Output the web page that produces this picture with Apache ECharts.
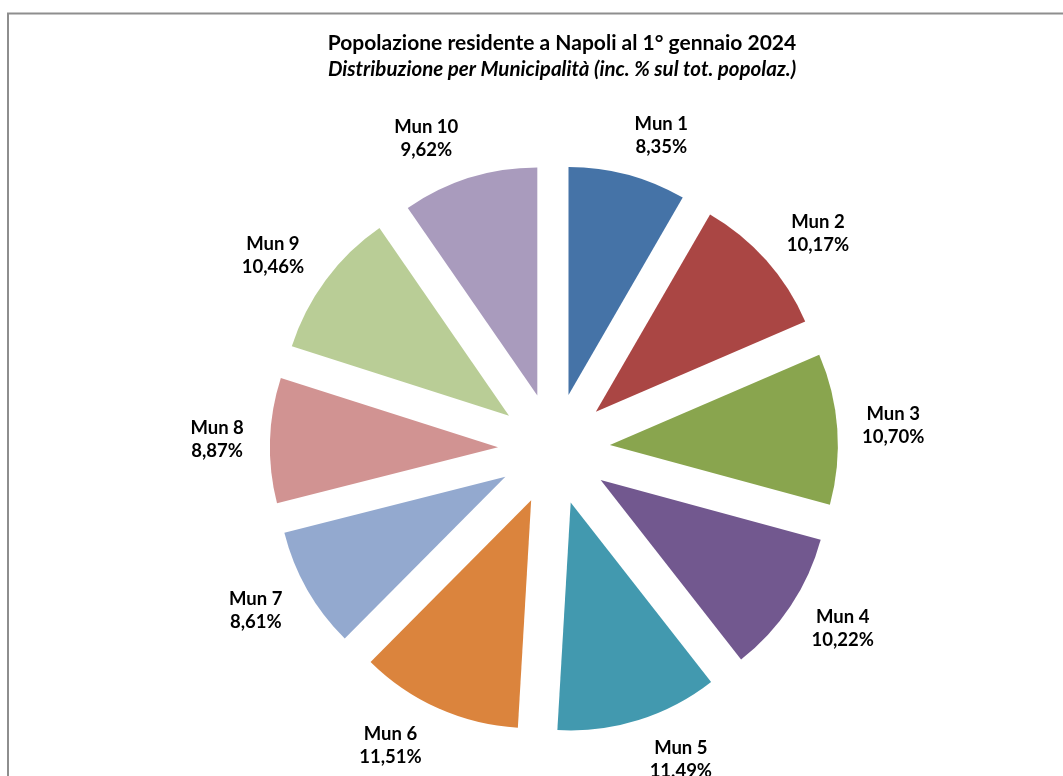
<!DOCTYPE html>
<html>
<head>
<meta charset="utf-8">
<script src="https://cdn.jsdelivr.net/npm/echarts@6/dist/echarts.min.js"></script>
<style>
  html, body { margin: 0; padding: 0; background: #fff; }
  #chart { width: 1063px; height: 776px; }
</style>
</head>
<body>
<div id="chart"></div>
<script>
// Municipalità e incidenza % sul totale della popolazione
const categories = ['Mun 1', 'Mun 2', 'Mun 3', 'Mun 4', 'Mun 5', 'Mun 6', 'Mun 7', 'Mun 8', 'Mun 9', 'Mun 10'];
const shares = [8.35, 10.17, 10.70, 10.22, 11.49, 11.51, 8.61, 8.87, 10.46, 9.62];
const colors = ['#4573A7', '#AA4644', '#89A54E', '#72588F', '#4299AF', '#DB843D', '#93A9CF', '#D19392', '#B9CD96', '#A99BBD'];
// spostamento orizzontale delle etichette (come le colloca Excel), in px
const labelNudgeX = [23, 21, 15, 18, 30, -31, -16, -12, -20, -31];

const center = [554, 449];
const fmt = v => v.toFixed(2).replace('.', ',') + '%';

// padding asimmetrico per spostare il testo centrato
const nudgePadding = dx => [0, dx < 0 ? -2 * dx : 0, 0, dx > 0 ? 2 * dx : 0];

const chart = echarts.init(document.getElementById('chart'));

chart.setOption({
  animation: false,
  title: {
    text: 'Popolazione residente a Napoli al 1° gennaio 2024',
    subtext: 'Distribuzione per Municipalità (inc. % sul tot. popolaz.)',
    left: 557,
    textAlign: 'center',
    top: 28,
    itemGap: 5,
    textStyle: { fontFamily: 'Lato', fontSize: 21, fontWeight: 'bold', color: '#000' },
    subtextStyle: { fontFamily: 'Lato', fontSize: 20.5, fontWeight: 'bold', fontStyle: 'italic', color: '#000' }
  },
  graphic: [{
    type: 'rect',
    silent: true,
    shape: { x: 8, y: 13.5, width: 2000, height: 2000 },
    style: { fill: 'none', stroke: '#8e8e8e', lineWidth: 2 }
  }],
  series: [{
    // spicchi esplosi
    type: 'pie',
    silent: true,
    center: center,
    radius: [0, 228],
    startAngle: 90,
    selectedMode: 'multiple',
    selectedOffset: 56,
    label: { show: false },
    labelLine: { show: false },
    emphasis: { disabled: true },
    data: categories.map((c, i) => ({
      name: c,
      value: shares[i],
      selected: true,
      itemStyle: { color: colors[i] }
    }))
  }, {
    // anello trasparente solo per le etichette
    type: 'pie',
    silent: true,
    center: center,
    radius: [308, 336],
    startAngle: 90,
    itemStyle: { color: 'transparent' },
    labelLine: { show: false },
    emphasis: { disabled: true },
    label: {
      show: true,
      position: 'inside',
      fontFamily: 'Lato',
      fontSize: 18.5,
      fontWeight: 'bold',
      color: '#000',
      lineHeight: 23,
      align: 'center',
      formatter: p => p.name + '\n' + fmt(p.value)
    },
    data: categories.map((c, i) => ({
      name: c,
      value: shares[i],
      label: { padding: nudgePadding(labelNudgeX[i]) }
    }))
  }]
});

window.addEventListener('resize', () => chart.resize());
</script>
</body>
</html>
